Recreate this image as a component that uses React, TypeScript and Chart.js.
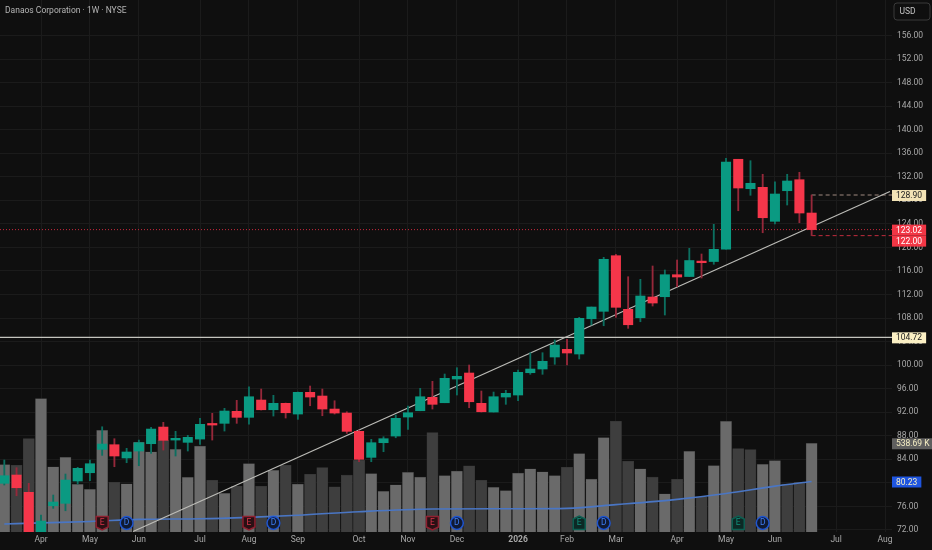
import React, { useEffect, useRef } from 'react';
import { Chart, registerables } from 'chart.js';

Chart.register(...registerables);

// Weekly candles, one entry per week
const opens = [79.92, 81.33, 78.39, 70.2, 76.11, 76.52, 80.31, 81.72, 85.69, 86.48, 84.22, 85.41, 86.65, 89.48, 87.27, 86.88, 87.44, 89.99, 90.11, 92.15, 91.13, 94.07, 92.42, 93.51, 91.69, 95.38, 94.75, 92.54, 91.86, 88.75, 84.33, 86.82, 87.95, 91.18, 92.25, 94.53, 93.61, 97.64, 98.66, 93.51, 92.03, 94.58, 94.92, 98.71, 99.34, 101.38, 102.68, 101.89, 107.88, 109.14, 118.59, 109.48, 108.05, 111.57, 111.62, 115.36, 115.05, 117.52, 117.6, 119.72, 134.97, 129.97, 130.21, 124.43, 129.63, 131.5, 125.84];
const highs = [83.88, 82.57, 79.92, 74.53, 77.93, 81.5, 82.64, 83.88, 89.53, 87.5, 85.86, 87.27, 89.43, 90.28, 88.75, 88.07, 90.96, 91.81, 92.66, 94.02, 96.33, 95.94, 94.87, 93.56, 95.43, 96.45, 95.94, 93.95, 92.08, 88.97, 87.39, 87.83, 91.52, 93.05, 96.06, 97.25, 98.49, 99.56, 100.02, 95.6, 95.43, 95.72, 99.17, 102.11, 102.11, 104.26, 104.38, 108.12, 109.87, 118.31, 118.82, 115.02, 114.58, 116.84, 116.16, 117.86, 119.84, 118.88, 123.92, 135.13, 134.97, 134.73, 132.42, 131.16, 132.42, 132.76, 128.9];
const lows = [79.63, 77.81, 69.5, 69.8, 75.67, 75.26, 79.8, 80.36, 84.67, 82.74, 83.42, 82.91, 85.01, 85.57, 84.56, 85.41, 86.54, 87.27, 88.8, 90.11, 89.99, 92.37, 91.35, 91.01, 90.79, 93.1, 91.4, 91.69, 88.41, 83.59, 83.59, 85.29, 87.66, 89.09, 92.25, 92.54, 93.61, 94.92, 92.76, 92.03, 92.03, 93.34, 93.95, 98.44, 98.44, 100.14, 100.02, 101.04, 106.81, 106.69, 108.12, 106.25, 107.37, 110.04, 108.51, 113.32, 115.05, 114.8, 117.13, 119.72, 126.23, 128.85, 122.49, 123.97, 127.2, 124.19, 122];
const closes = [81.21, 79.17, 70.2, 73.51, 76.74, 80.48, 82.47, 83.25, 86.59, 84.56, 85.24, 86.82, 89.14, 87.22, 87.56, 87.73, 89.94, 89.82, 92.2, 91.13, 94.63, 92.42, 93.51, 91.91, 95.38, 94.58, 92.54, 91.86, 88.75, 84, 86.82, 87.5, 90.96, 91.91, 94.63, 93.34, 97.76, 98.1, 93.78, 92.08, 94.63, 95.21, 98.78, 99.34, 100.65, 103.41, 102.06, 107.95, 109.87, 117.98, 109.82, 106.86, 111.74, 110.55, 115.36, 114.97, 117.77, 117.4, 119.67, 134.51, 130.09, 130.89, 125.04, 129.07, 131.28, 125.84, 123.02];

// Volume in thousands of shares and the shade TradingView gave each bar
const volumes = [409, 405, 567, 810, 395, 453, 289, 259, 617, 302, 293, 544, 486, 557, 502, 332, 522, 314, 235, 279, 415, 277, 374, 405, 291, 350, 391, 275, 346, 435, 354, 247, 287, 362, 334, 603, 342, 370, 401, 314, 271, 251, 358, 383, 366, 342, 393, 476, 322, 573, 672, 429, 383, 334, 231, 320, 490, 213, 403, 672, 506, 500, 411, 433, 293, 302, 538.69];
const volumeShades = 'LDDLLLLLLDLLLDLLLDLDLDLDLDDDDDLLLLLDLLDDLLLLLLDLLLDDLDLDLDLLDDLLDD'.split('');

// Long moving average, read at these weeks
const maWeeks = [0, 3, 7, 11, 16, 20, 24, 29, 35, 42, 46, 50, 55, 59, 63, 66];
const maValues = [73.0, 73.2, 73.43, 73.8, 73.9, 74.14, 74.5, 75.1, 75.55, 75.6, 75.67, 76.3, 77.2, 78.2, 79.45, 80.23];

// Rising trend line, end points as week / price
const trendWeeks = [10.52, 72.4];
const trendPrices = [71.73, 129.5];

const priceTicks = [72, 76, 80, 84, 88, 92, 96, 100, 104, 108, 112, 116, 120, 124, 128, 132, 136, 140, 144, 148, 152, 156];
const monthWeeks = [3, 7, 11, 16, 20, 24, 29, 33, 37, 42, 46, 50, 55, 59, 63, 68, 72];
const monthLabels = ['Apr', 'May', 'Jun', 'Jul', 'Aug', 'Sep', 'Oct', 'Nov', 'Dec', '2026', 'Feb', 'Mar', 'Apr', 'May', 'Jun', 'Jul', 'Aug'];

const earningsWeeks = [8, 20, 35, 47, 60];
const earningsBeat = [false, false, false, true, true];
const dividendWeeks = [10, 22, 37, 49, 62];

const title = 'Danaos Corporation · 1W · NYSE';
const currency = 'USD';

const BG = '#0f0f0f';
const GRID = '#1b1b1b';
const UP = '#0a9a82';
const DOWN = '#f5364a';
const UP_WICK = '#0c6f60';
const DOWN_WICK = '#96283a';
const X_MIN = -0.352;
const X_MAX = 72.57;

const weeks = opens.map((_, i) => i);

const level = (price: number, from = X_MIN) => [
  { x: from, y: price },
  { x: X_MAX, y: price },
];

const priceTags = [
  { text: '128.90', value: 128.9, axis: 'y', bg: '#f3e3b6', fg: '#1c1c1c' },
  { text: '123.02', value: 123.02, axis: 'y', bg: '#f23645', fg: '#ffffff' },
  { text: '122.00', value: 122, axis: 'y', bg: '#f23645', fg: '#ffffff' },
  { text: '104.72', value: 104.72, axis: 'y', bg: '#fbf0c4', fg: '#1c1c1c' },
  { text: '538.69 K', value: 538.69, axis: 'yVol', bg: '#5f5f5f', fg: '#f6efc4' },
  { text: '80.23', value: 80.23, axis: 'y', bg: '#1f55e0', fg: '#f6efc4' },
];

const chartDecorations = {
  id: 'chartDecorations',
  afterDatasetsDraw(chart: any) {
    const { ctx, chartArea, scales } = chart;
    const markerY = chartArea.bottom - 9;
    ctx.save();
    ctx.textAlign = 'center';
    ctx.textBaseline = 'middle';
    ctx.font = '8.5px Roboto';
    ctx.lineWidth = 1.5;

    earningsWeeks.forEach((week, i) => {
      const x = scales.x.getPixelForValue(week);
      const beat = earningsBeat[i];
      const dir = beat ? -1 : 1;
      ctx.beginPath();
      ctx.moveTo(x - 6, markerY - 6.5 * dir);
      ctx.lineTo(x + 6, markerY - 6.5 * dir);
      ctx.lineTo(x + 6, markerY + 4 * dir);
      ctx.lineTo(x, markerY + 7 * dir);
      ctx.lineTo(x - 6, markerY + 4 * dir);
      ctx.closePath();
      ctx.fillStyle = beat ? '#0c2925' : '#2a1014';
      ctx.strokeStyle = beat ? '#0d5f52' : '#8f2030';
      ctx.fill();
      ctx.stroke();
      ctx.fillStyle = beat ? '#10917c' : '#d8344a';
      ctx.fillText('E', x, markerY);
    });

    dividendWeeks.forEach((week) => {
      const x = scales.x.getPixelForValue(week);
      ctx.beginPath();
      ctx.arc(x, markerY, 6.4, 0, Math.PI * 2);
      ctx.fillStyle = '#101a33';
      ctx.strokeStyle = '#1f55d0';
      ctx.fill();
      ctx.stroke();
      ctx.fillStyle = '#3f7df5';
      ctx.fillText('D', x, markerY);
    });
    ctx.restore();
  },
  afterDraw(chart: any) {
    const { ctx, chartArea, scales, width, height } = chart;
    ctx.save();

    // the price labels get cut off where the time row starts
    ctx.fillStyle = BG;
    ctx.fillRect(897, chartArea.bottom, width - 897, height - chartArea.bottom);

    ctx.font = '8.5px Roboto';
    ctx.fillStyle = '#b4b4b4';
    ctx.textAlign = 'left';
    ctx.textBaseline = 'middle';
    ctx.fillText(title, 5, 10.5);

    ctx.strokeStyle = '#3a3a3a';
    ctx.beginPath();
    ctx.roundRect(894, 3, 36, 17, 3);
    ctx.stroke();
    ctx.fillStyle = '#c4c4c4';
    ctx.fillText(currency, 899.5, 11.5);

    // tags on the price axis, pushed apart when they would overlap
    const tagHeight = 11;
    let lastY = -100;
    priceTags
      .map((tag) => ({ ...tag, y: scales[tag.axis].getPixelForValue(tag.value) }))
      .sort((a, b) => a.y - b.y)
      .forEach((tag) => {
        const y = Math.max(tag.y, lastY + tagHeight);
        lastY = y;
        const w = ctx.measureText(tag.text).width + 8;
        ctx.fillStyle = tag.bg;
        ctx.fillRect(chartArea.right, y - tagHeight / 2 + 0.5, w, tagHeight);
        ctx.fillStyle = tag.fg;
        ctx.fillText(tag.text, chartArea.right + 4, y + 1);
      });
    ctx.restore();
  },
};

// Chart.js reserves room for half a label at each end of an axis; the plot runs edge to edge here
const noEndPadding = (axis: any) => {
  axis.paddingTop = 0;
  axis.paddingBottom = 0;
  axis.paddingLeft = 0;
  axis.paddingRight = 0;
};

const App: React.FC = () => {
  const canvasRef = useRef<HTMLCanvasElement>(null);

  useEffect(() => {
    if (!canvasRef.current) return;

    const wickColors = opens.map((o, i) => (closes[i] >= o ? UP_WICK : DOWN_WICK));
    const bodyColors = opens.map((o, i) => (closes[i] >= o ? UP : DOWN));

    const chart = new Chart(canvasRef.current, {
      type: 'bar',
      plugins: [chartDecorations],
      data: {
        datasets: [
          {
            type: 'bar',
            label: 'Body',
            data: weeks.map((i) => ({ x: i, y: [opens[i], closes[i]] })),
            backgroundColor: bodyColors,
            barThickness: 9.4,
            minBarLength: 1.6,
            grouped: false,
            order: 1,
          },
          {
            type: 'bar',
            label: 'Wick',
            data: weeks.map((i) => ({ x: i, y: [lows[i], highs[i]] })),
            backgroundColor: wickColors,
            barThickness: 1.2,
            grouped: false,
            order: 2,
          },
          {
            type: 'line',
            label: 'Trend',
            data: trendWeeks.map((w, i) => ({ x: w, y: trendPrices[i] })),
            borderColor: '#bdbdb8',
            borderWidth: 1.1,
            pointRadius: 0,
            order: 3,
          },
          {
            type: 'line',
            label: 'Level',
            data: level(104.72),
            borderColor: '#c4c4be',
            borderWidth: 1.4,
            pointRadius: 0,
            order: 3,
          },
          {
            type: 'line',
            label: 'Last',
            data: level(123.02),
            borderColor: '#c8283c',
            borderWidth: 1,
            borderDash: [1, 2],
            pointRadius: 0,
            order: 3,
          },
          {
            type: 'line',
            label: 'High',
            data: level(128.9, 66),
            borderColor: '#a08a80',
            borderWidth: 1,
            borderDash: [4, 3],
            pointRadius: 0,
            order: 3,
          },
          {
            type: 'line',
            label: 'Low',
            data: level(122, 66),
            borderColor: '#c22c3e',
            borderWidth: 1,
            borderDash: [4, 3],
            pointRadius: 0,
            order: 3,
          },
          {
            type: 'line',
            label: 'MA',
            data: maWeeks.map((w, i) => ({ x: w, y: maValues[i] })),
            borderColor: '#4a76c4',
            borderWidth: 1.6,
            pointRadius: 0,
            cubicInterpolationMode: 'monotone',
            order: 4,
          },
          {
            type: 'bar',
            label: 'Volume',
            data: weeks.map((i) => ({ x: i, y: volumes[i] })),
            backgroundColor: volumeShades.map((s) => (s === 'L' ? '#6a6a6a' : '#3e3e3e')),
            borderColor: '#333333',
            borderWidth: 0.5,
            barThickness: 11.2,
            grouped: false,
            yAxisID: 'yVol',
            order: 5,
          },
        ] as any,
      },
      options: {
        responsive: false,
        animation: false,
        maintainAspectRatio: false,
        layout: { padding: 0 },
        plugins: {
          legend: { display: false },
          tooltip: { enabled: false },
        },
        scales: {
          x: {
            type: 'linear',
            min: X_MIN,
            max: X_MAX,
            offset: false,
            grid: { color: GRID, offset: false, drawTicks: false },
            border: { display: false },
            afterBuildTicks: (axis: any) => {
              axis.ticks = monthWeeks.map((value) => ({ value }));
            },
            afterFit: (axis: any) => {
              axis.height = 18;
              noEndPadding(axis);
            },
            ticks: {
              autoSkip: false,
              maxRotation: 0,
              padding: 3,
              color: '#a8a8a8',
              font: (ctx: any) => ({
                family: 'Roboto',
                size: 8.5,
                weight: ctx.tick && ctx.tick.value === 42 ? 'bold' : 'normal',
              }),
              callback: (value: any) => monthLabels[monthWeeks.indexOf(Number(value))],
            },
          },
          y: {
            type: 'linear',
            position: 'right',
            min: 71.65,
            max: 162.03,
            grid: { color: GRID, drawTicks: false },
            border: { display: false },
            afterBuildTicks: (axis: any) => {
              axis.ticks = priceTicks.map((value) => ({ value }));
            },
            afterFit: (axis: any) => {
              axis.width = 40;
              noEndPadding(axis);
            },
            ticks: {
              autoSkip: false,
              padding: 5,
              color: '#a8a8a8',
              font: { family: 'Roboto', size: 8.5 },
              callback: (value: any) => Number(value).toFixed(2),
            },
          },
          yVol: {
            type: 'linear',
            display: false,
            min: 0,
            max: 3230,
          },
        },
      } as any,
    });

    return () => {
      chart.destroy();
    };
  }, []);

  return (
    <div style={{ position: 'fixed', left: 0, top: 0, width: 932, height: 550, background: BG }}>
      <canvas ref={canvasRef} width={932} height={550} style={{ display: 'block' }} />
    </div>
  );
};

export default App;
